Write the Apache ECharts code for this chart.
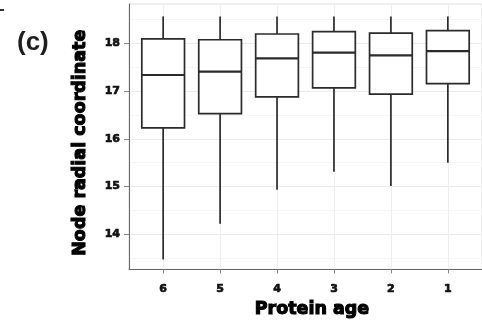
<!DOCTYPE html>
<html>
<head>
<meta charset="utf-8">
<script src="https://cdn.jsdelivr.net/npm/echarts@6/dist/echarts.min.js"></script>
<style>
  html, body { margin: 0; padding: 0; background: #ffffff; }
  #chart { width: 482px; height: 324px; }
</style>
</head>
<body>
<div id="chart"></div>
<script>
// Protein age groups, oldest (6) to youngest (1)
const ageLabels = ['6', '5', '4', '3', '2', '1'];
// Box statistics per age group: lower whisker, Q1, median, Q3, upper whisker
const whiskerLow = [13.47, 14.22, 14.93, 15.31, 15.01, 15.50];
const q1 = [16.23, 16.53, 16.88, 17.07, 16.94, 17.16];
const median = [17.34, 17.41, 17.69, 17.81, 17.75, 17.84];
const q3 = [18.10, 18.08, 18.20, 18.25, 18.22, 18.27];
const whiskerHigh = [18.57, 18.57, 18.57, 18.57, 18.57, 18.57];
const yTicks = [14, 15, 16, 17, 18];

const positions = ageLabels.map((_, i) => i + 1);
const boxData = ageLabels.map((_, i) => [
  positions[i], whiskerLow[i], q1[i], median[i], q3[i], whiskerHigh[i]
]);

const titleFont = 'DejaVu Sans';
const lineColor = '#2b2b2b';

// One box-and-whisker glyph per group, positioned through the axes
function renderBox(params, api) {
  const x = api.value(0);
  const pLow = api.coord([x, api.value(1)]);
  const pQ1 = api.coord([x, api.value(2)]);
  const pMed = api.coord([x, api.value(3)]);
  const pQ3 = api.coord([x, api.value(4)]);
  const pHigh = api.coord([x, api.value(5)]);
  const half = api.size([1, 0])[0] * 0.75 / 2;
  const style = { stroke: lineColor, lineWidth: 1.7, fill: null };
  return {
    type: 'group',
    children: [
      { type: 'line', shape: { x1: pLow[0], y1: pLow[1], x2: pQ1[0], y2: pQ1[1] }, style },
      { type: 'line', shape: { x1: pQ3[0], y1: pQ3[1], x2: pHigh[0], y2: pHigh[1] }, style },
      { type: 'rect', shape: { x: pQ3[0] - half, y: pQ3[1], width: half * 2, height: pQ1[1] - pQ3[1] },
        style: { stroke: lineColor, lineWidth: 1.7, fill: '#ffffff' } },
      { type: 'line', shape: { x1: pMed[0] - half, y1: pMed[1], x2: pMed[0] + half, y2: pMed[1] },
        style: { stroke: lineColor, lineWidth: 2.2 } }
    ]
  };
}

const heavyTitle = {
  fontFamily: titleFont, fontWeight: 'bold', fontSize: 17.5, color: '#000',
  textBorderColor: '#000', textBorderWidth: 1.1
};
const heavyTick = {
  fontFamily: titleFont, fontWeight: 'bold', fontSize: 11, color: '#111',
  textBorderColor: '#111', textBorderWidth: 0.7
};

const chart = echarts.init(document.getElementById('chart'), null, { renderer: 'canvas' });
chart.setOption({
  animation: false,
  backgroundColor: '#ffffff',
  grid: {
    left: 129, top: 4, width: 361, height: 269,
    show: true, borderColor: '#dcdcdc', borderWidth: 1, backgroundColor: '#ffffff'
  },
  graphic: [
    { type: 'text', left: 17, top: 30,
      style: { text: '(c)', font: 'bold 26px "Liberation Sans"', fill: '#1e1e1e' } },
    { type: 'rect', shape: { x: 0, y: 9, width: 4, height: 2 }, style: { fill: '#333' } }
  ],
  xAxis: {
    type: 'value',
    min: 0.4, max: 6.6,
    name: 'Protein age',
    nameLocation: 'middle',
    nameGap: 31,
    nameTextStyle: Object.assign({ padding: [0, 0, 0, 13] }, heavyTitle),
    axisLine: { show: true, onZero: false, lineStyle: { color: '#666', width: 1 } },
    axisTick: { show: true, customValues: positions, length: 4, lineStyle: { color: '#888' } },
    axisLabel: Object.assign({
      customValues: positions,
      formatter: v => ageLabels[Math.round(v) - 1] || '',
      margin: 14
    }, heavyTick),
    splitLine: { show: true, lineStyle: { color: '#efefef', width: 1 } }
  },
  yAxis: {
    type: 'value',
    min: 13.26, max: 18.83,
    name: 'Node radial coordinate',
    nameLocation: 'middle',
    nameGap: 40,
    nameTextStyle: Object.assign({ padding: [0, 12, 0, 0] }, heavyTitle),
    axisLine: { show: true, lineStyle: { color: '#666', width: 1 } },
    axisTick: { show: true, customValues: yTicks, length: 5, lineStyle: { color: '#888' } },
    axisLabel: Object.assign({ customValues: yTicks, margin: 9 }, heavyTick),
    splitLine: { show: true, lineStyle: { color: '#ebebeb', width: 1 } },
    minorTick: { show: false, splitNumber: 2 },
    minorSplitLine: { show: true, lineStyle: { color: '#f6f6f6', width: 1 } }
  },
  series: [{
    type: 'custom',
    renderItem: renderBox,
    data: boxData,
    encode: { x: 0, y: [1, 2, 3, 4, 5] },
    clip: false,
    silent: true
  }]
});
</script>
</body>
</html>
